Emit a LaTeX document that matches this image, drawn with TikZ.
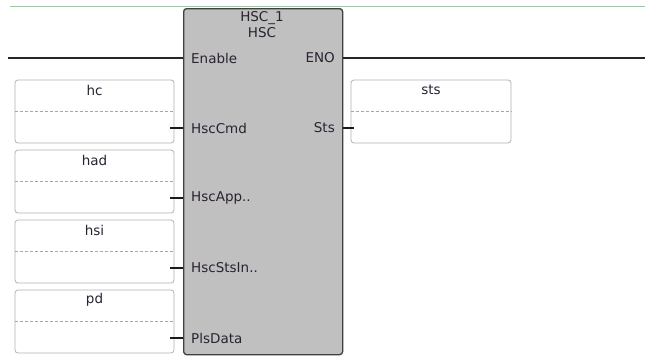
\documentclass[tikz,border=0pt]{standalone}
\usepackage{fontspec}
\setmainfont{DejaVu Sans}
\usetikzlibrary{positioning}
\definecolor{blockgray}{HTML}{C0C0C0}
\definecolor{pintext}{HTML}{2A2233}
\definecolor{topgreen}{HTML}{8FD18F}

\begin{document}
\begin{tikzpicture}[
            x=1pt, y=-1pt,
            font=\fontsize{13.5}{15}\selectfont,
            fblock/.style={draw=black!75, line width=1.3pt, fill=blockgray, rounded corners=3pt,
                    minimum width=159pt, minimum height=346pt, inner sep=0pt},
            varbox/.style={draw=black!30, line width=0.8pt, fill=white, rounded corners=3pt,
                    minimum width=159pt, minimum height=63pt, inner sep=0pt},
            pinlabel/.style={inner sep=0pt, text=pintext},
            rail/.style={line width=2.2pt, black!85},
            pinline/.style={line width=1.6pt, black!90},
            sepline/.style={densely dashed, black!35, line width=0.6pt}
        ]
        \useasboundingbox[fill=white] (0,0) rectangle (645,356);
        % top border of the rung
        \coordinate (topL) at (10,6.5);
        \coordinate (topR) at (645,6.5);
        \draw[topgreen, line width=1pt] (topL) -- (topR);

        % function block
        \node[fblock, anchor=north west] (hsc) at (183,8) {};
        \node[pinlabel] (inst) at (262,18) {HSC\_1};
        \node[pinlabel] (type) at (262,33) {HSC};
        \node[pinlabel, anchor=west] (en) at (191,58) {Enable};
        \node[pinlabel, anchor=east] (eno) at (335,58) {ENO};

        % power rail
        \coordinate (railL) at (8,58);
        \coordinate (railR) at (645,58);
        \draw[rail] (railL) -- (hsc.west |- en);
        \draw[rail] (hsc.east |- eno) -- (railR);

        % input variables
        \foreach \v/\p/\k in {hc/HscCmd/0, had/HscApp../1, hsi/HscStsIn../2, pd/PlsData/3} {
            \pgfmathsetmacro{\yc}{111.5+70*\k}
            \node[varbox] (\v) at (94.5,\yc) {};
            \node[pinlabel] (\v-name) at (94.5,\yc-21.5) {\v};
            \draw[sepline] (\v.west) -- (\v.east);
            \node[pinlabel, anchor=west] (\v-in) at (191,\yc+16.5) {\p};
            \draw[pinline] ([xshift=-4pt]\v.east |- \v-in) -- (hsc.west |- \v-in);
        }

        % output variable
        \node[varbox, minimum width=160pt] (sts) at (431,111.5) {};
        \node[pinlabel] (sts-name) at (431,90) {sts};
        \draw[sepline] (sts.west) -- (sts.east);
        \node[pinlabel, anchor=east] (sts-out) at (335,128) {Sts};
        \draw[pinline] (hsc.east |- sts-out) -- ([xshift=3pt]sts.west |- sts-out);
    \end{tikzpicture}
\end{document}
